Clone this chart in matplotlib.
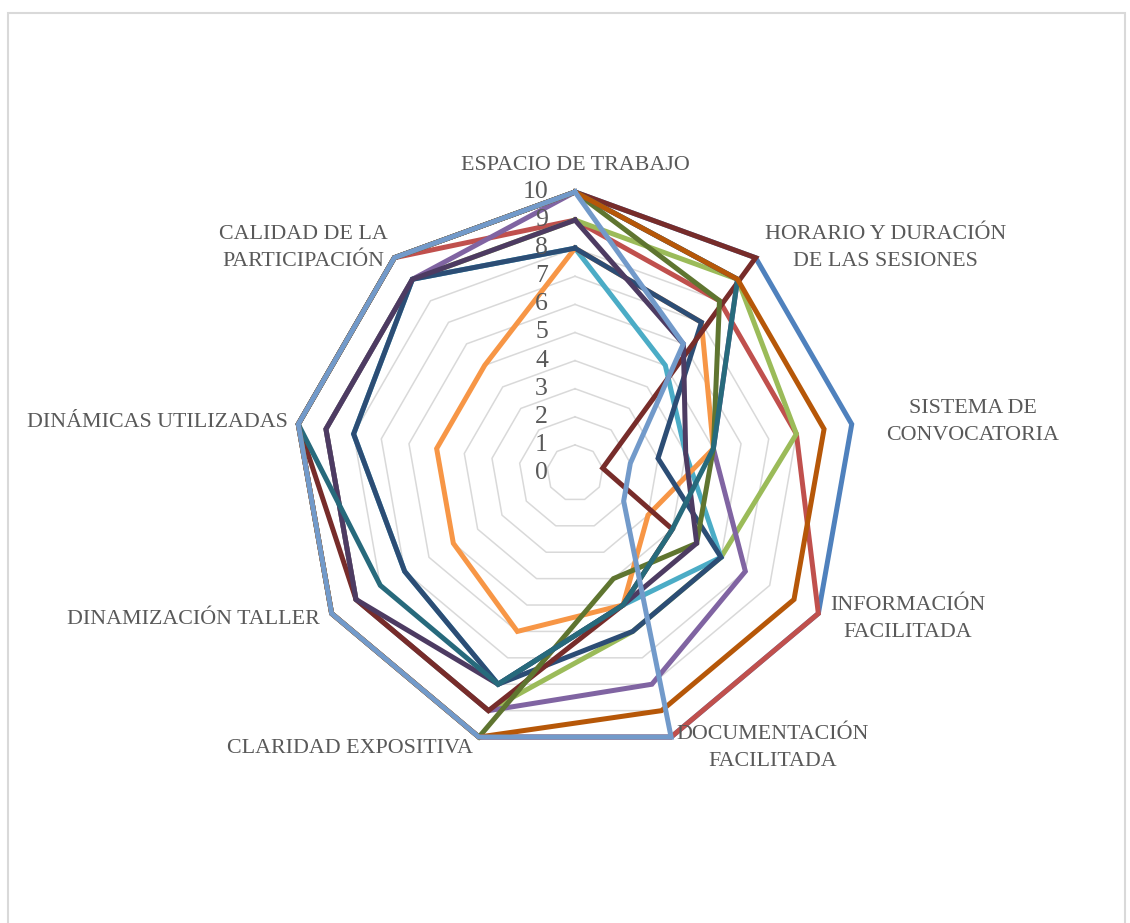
import numpy as np
import matplotlib.pyplot as plt
from matplotlib.patches import Rectangle
from matplotlib.transforms import offset_copy

# Categorías del gráfico radial (en sentido horario desde arriba)
categorias = [
    "ESPACIO DE TRABAJO",
    "HORARIO Y DURACIÓN\nDE LAS SESIONES",
    "SISTEMA DE\nCONVOCATORIA",
    "INFORMACIÓN\nFACILITADA",
    "DOCUMENTACIÓN\nFACILITADA",
    "CLARIDAD EXPOSITIVA",
    "DINAMIZACIÓN TALLER",
    "DINÁMICAS UTILIZADAS",
    "CALIDAD DE LA\nPARTICIPACIÓN",
]

# Puntuaciones de cada participante (0-10)
p01 = [10, 10, 10, 10, 10, 10, 10, 10, 10]
p02 = [9, 8, 8, 10, 10, 10, 10, 10, 10]
p03 = [9, 9, 8, 6, 6, 9, 9, 9, 9]
p04 = [10, 9, 5, 7, 8, 9, 9, 9, 9]
p05 = [8, 5, 4, 6, 5, 8, 7, 8, 9]
p06 = [8, 7, 5, 3, 5, 6, 5, 5, 5]
p07 = [8, 7, 3, 6, 6, 8, 7, 8, 9]
p08 = [10, 10, 1, 4, 5, 9, 9, 10, 10]
p09 = [10, 8, 5, 5, 4, 10, 10, 10, 10]
p10 = [9, 6, 4, 5, 5, 8, 9, 9, 9]
p11 = [10, 9, 5, 4, 5, 8, 8, 10, 10]
p12 = [10, 9, 9, 9, 9, 10, 10, 10, 10]
p13 = [10, 6, 2, 2, 10, 10, 10, 10, 10]
participantes = [p01, p02, p03, p04, p05, p06, p07, p08, p09, p10, p11, p12, p13]

colores = ["#4F81BD", "#C0504D", "#9BBB59", "#8064A2", "#4BACC6", "#F79646",
           "#2C4D75", "#772C2A", "#5F7530", "#4D3B62", "#276A7C", "#B65708",
           "#729ACA"]

escala = list(range(0, 11))

# posición de las etiquetas de categoría: (radio, alineación horizontal)
pos_etiquetas = [(10.96, "center"), (10.48, "left"), (11.22, "left"),
                 (10.46, "left"), (10.43, "left"), (10.44, "right"),
                 (10.46, "right"), (10.37, "right"), (10.41, "right")]
ang_etiquetas = [0, 40.2, 80.7, 119.8, 159.8, 200.3, 240.2, 280.0, 320.3]

texto = "#595959"
fuente = "Liberation Serif"

n = len(categorias)
angulos = np.linspace(0, 2 * np.pi, n, endpoint=False)
ang_cerrado = np.append(angulos, angulos[0])

fig = plt.figure(figsize=(11.3, 9.23), dpi=100)
cx, cy = 575 / 1130, 1 - 473 / 923
w, h = 562 / 1130, 562 / 923
ax = fig.add_axes([cx - w / 2, cy - h / 2, w, h], polar=True)
ax.set_theta_offset(np.pi / 2)
ax.set_theta_direction(-1)
ax.set_ylim(0, 10)
ax.axis("off")

# anillos de la rejilla (polígonos)
for k in escala[1:]:
    ax.plot(ang_cerrado, [k] * (n + 1), color="#D9D9D9", lw=1.1,
            clip_on=False, zorder=1)

# series
for i, (vals, col) in enumerate(zip(participantes, colores)):
    ax.plot(ang_cerrado, vals + [vals[0]], color=col, lw=3.6,
            solid_joinstyle="miter", clip_on=False, zorder=2 + i)

# etiquetas del eje radial
trans_esc = offset_copy(ax.transData, fig=fig, x=-27, y=0, units="dots")
for k in escala:
    ax.text(0, k, str(k), transform=trans_esc, ha="right", va="center",
            fontsize=18.5, color=texto, family=fuente, zorder=30)

# etiquetas de categoría
for cat, (r, ha), a in zip(categorias, pos_etiquetas, ang_etiquetas):
    ax.text(np.deg2rad(a), r, cat, ha=ha, va="center", multialignment="center",
            fontsize=15.8, color=texto, family=fuente, linespacing=1.55)

# borde del área del gráfico
fig.add_artist(Rectangle((8 / 1130, -0.1), (1125 - 8) / 1130, 1.1 - 13 / 923,
                         transform=fig.transFigure, fill=False,
                         ec="#D9D9D9", lw=1.5))

fig.savefig("out.png", dpi=100)
